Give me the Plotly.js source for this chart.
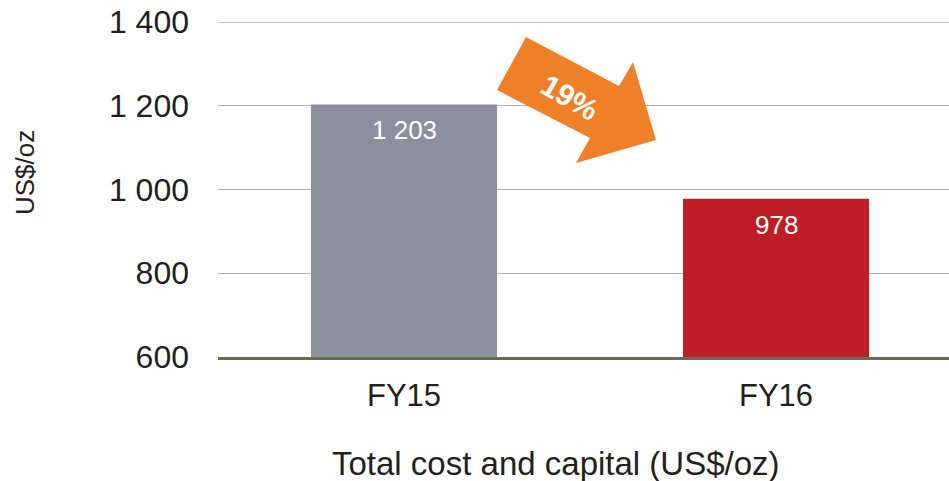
<!DOCTYPE html>
<html>
<head>
<meta charset="utf-8">
<script src="https://cdn.plot.ly/plotly-3.0.1.min.js"></script>
<style>html,body{margin:0;padding:0;background:#fff;}#chart{width:949px;height:481px;}</style>
</head>
<body>
<div id="chart"></div>
<script>
const categories = ['FY15', 'FY16'];
const values = [1203, 978];
const barColors = ['#8a909c', '#be1e26'];
const changeLabel = '19%';
const yTicks = [600, 800, 1000, 1200, 1400];
const yTitle = 'US$/oz';
const xTitle = 'Total cost and capital (US$/oz)';

const W = 949, H = 481;
const M = {l: 218, r: 0, t: 22, b: 124};
const pw = W - M.l - M.r, ph = H - M.t - M.b;
function px(X) { return (X - M.l) / pw; }
function py(Y) { return (H - M.b - Y) / ph; }

const arrowPts = [[526,37],[619,86],[633,62],[656,140],[576,163],[590,138],[497,90]];
const arrowPath = 'M ' + arrowPts.map(p => px(p[0]).toFixed(4) + ',' + py(p[1]).toFixed(4)).join(' L ') + ' Z';

const font = 'Liberation Sans, Arial, sans-serif';
const txt = '#231f20';
function fmt(v) { return String(v).replace(/\B(?=(\d{3})+(?!\d))/g, ' '); }

const trace = {
  type: 'bar',
  x: categories,
  y: values,
  marker: {color: barColors, line: {width: 0}},
  width: 0.5,
  hoverinfo: 'none'
};

const labelAnns = categories.map((c, i) => ({
  x: c, y: values[i], xref: 'x', yref: 'y',
  text: fmt(values[i]), showarrow: false,
  yanchor: 'top', yshift: -9,
  font: {family: font, size: 26, color: '#ffffff'}
}));

const topTick = yTicks[yTicks.length - 1];

const layout = {
  width: W, height: H,
  margin: M,
  paper_bgcolor: '#ffffff', plot_bgcolor: '#ffffff',
  separators: '. ',
  showlegend: false,
  xaxis: {
    type: 'category',
    range: [-0.5, 1.465],
    showgrid: false,
    showline: true, linecolor: '#6f6a55', linewidth: 3,
    ticks: '', ticklabelstandoff: 9,
    tickfont: {family: font, size: 31, color: txt},
    fixedrange: true
  },
  yaxis: {
    range: [600, 1400],
    tickvals: yTicks,
    tickformat: ',d',
    showgrid: true, gridcolor: '#b1b1b3', gridwidth: 1.3,
    zeroline: false, showline: false,
    ticks: '', ticklabelstandoff: 28,
    tickfont: {family: font, size: 32, color: txt},
    fixedrange: true
  },
  shapes: [
    {
      type: 'line', xref: 'paper', yref: 'y', x0: 0, x1: 1, y0: topTick, y1: topTick,
      line: {color: '#b1b1b3', width: 1.3}, layer: 'below'
    },
    {
      type: 'path', xref: 'paper', yref: 'paper', path: arrowPath,
      fillcolor: '#ee8128', line: {width: 0}, layer: 'above'
    }
  ],
  annotations: labelAnns.concat([
    {
      xref: 'paper', yref: 'paper', x: px(570), y: py(97),
      text: '<b>' + changeLabel + '</b>', showarrow: false, textangle: 30,
      xanchor: 'center', yanchor: 'middle',
      font: {family: font, size: 30, color: '#ffffff'}
    },
    {
      xref: 'paper', yref: 'paper', x: px(25), y: py(173),
      text: yTitle, showarrow: false, textangle: -90,
      xanchor: 'center', yanchor: 'middle',
      font: {family: font, size: 26, color: txt}
    },
    {
      xref: 'paper', yref: 'paper', x: px(555.5), y: py(463),
      text: xTitle, showarrow: false,
      xanchor: 'center', yanchor: 'middle',
      font: {family: font, size: 33, color: txt}
    }
  ])
};

Plotly.newPlot('chart', [trace], layout, {displayModeBar: false, staticPlot: true});
</script>
</body>
</html>
